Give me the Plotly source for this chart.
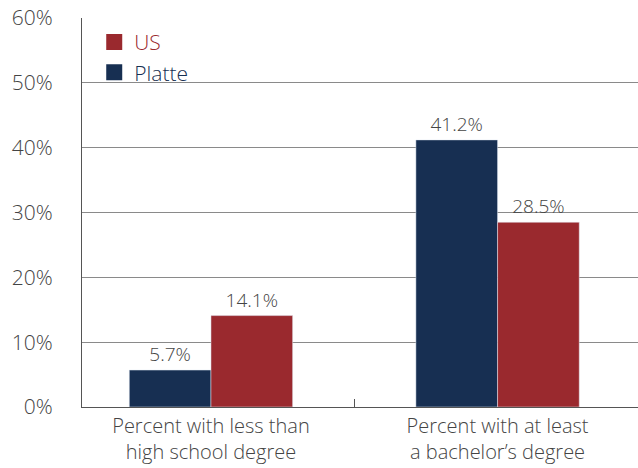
import plotly.graph_objects as go

categories = ["Percent with less than<br>high school degree", "Percent with at least<br>a bachelor’s degree"]
platte = [5.7, 41.2]
us = [14.1, 28.5]
y_ticks = [0, 10, 20, 30, 40, 50, 60]
y_tick_text = ["0%", "10%", "20%", "30%", "40%", "50%", "60%"]

NAVY = "#172F52"
RED = "#9A292E"
TXT = "#444444"
FONT = "Open Sans"

fig = go.Figure()
fig.add_trace(go.Bar(x=categories, y=platte, name="Platte", marker_color=NAVY,
                     text=[f"{v}%" for v in platte], textposition="outside",
                     textfont=dict(size=19, color=TXT, family=FONT), showlegend=False, cliponaxis=False))
fig.add_trace(go.Bar(x=categories, y=us, name="US", marker_color=RED,
                     text=[f"{v}%" for v in us], textposition="outside",
                     textfont=dict(size=19, color=TXT, family=FONT), showlegend=False, cliponaxis=False))
# legend entries
fig.add_trace(go.Scatter(x=[None], y=[None], mode="markers", name=f'<span style="color:{RED}">US</span>',
                         marker=dict(symbol="square", size=19, color=RED)))
fig.add_trace(go.Scatter(x=[None], y=[None], mode="markers", name=f'<span style="color:{NAVY}">Platte</span>',
                         marker=dict(symbol="square", size=19, color=NAVY)))

fig.update_layout(
    width=638, height=468,
    margin=dict(l=82, r=0, t=18, b=61, autoexpand=False),
    paper_bgcolor="white", plot_bgcolor="white",
    barmode="group", bargap=0.43, bargroupgap=0,
    font=dict(family=FONT, color=TXT, size=20, weight=300),
    legend=dict(x=0.022, y=0.99, xanchor="left", yanchor="top", bgcolor="rgba(0,0,0,0)",
                font=dict(size=21, family=FONT), itemsizing="trace", tracegroupgap=0),
)
fig.update_xaxes(type="category", range=[-0.45, 1.49], showline=True, linecolor="#555555", linewidth=1,
                 ticks="inside", tickson="boundaries", ticklen=8, tickcolor="#555555",
                 ticklabelstandoff=1, automargin=False,
                 tickfont=dict(size=20, color=TXT, family=FONT), showgrid=False)
fig.update_yaxes(range=[0, 60], tickvals=y_ticks, ticktext=y_tick_text, showgrid=True,
                 gridcolor="#8a8a8a", gridwidth=1, showline=True, linecolor="#555555", linewidth=1,
                 ticks="", ticklabelstandoff=24, automargin=False,
                 tickfont=dict(size=21, color=TXT, family=FONT), zeroline=False)

fig.write_html("out.html", config={"displayModeBar": False},
               post_script="document.body.style.margin='0';document.body.style.overflow='hidden';")
